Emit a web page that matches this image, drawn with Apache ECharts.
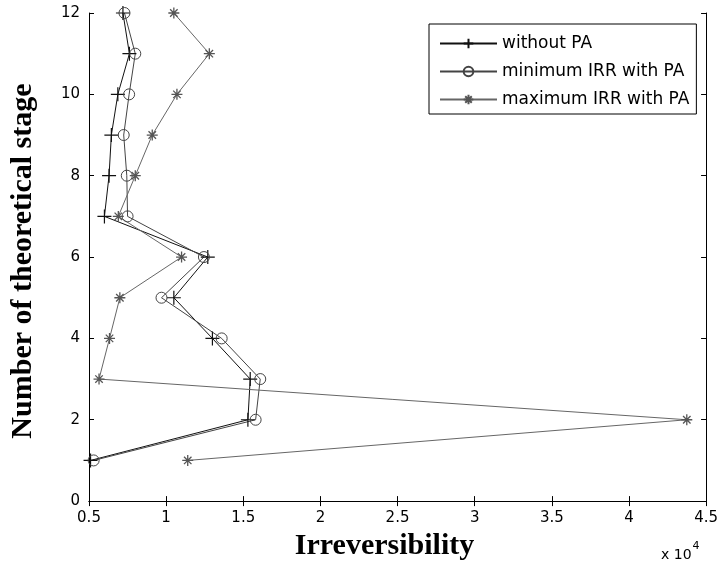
<!DOCTYPE html>
<html>
<head>
<meta charset="utf-8">
<script src="https://cdn.jsdelivr.net/npm/echarts@6/dist/echarts.min.js"></script>
<style>html,body{margin:0;padding:0;background:#fff}#c{width:721px;height:566px}</style>
</head>
<body>
<div id="c"></div>
<script>
var stages = [1,2,3,4,5,6,7,8,9,10,11,12];
var withoutPA = [5100,15300,15450,13000,10500,12700,6000,6300,6450,6870,7620,7200];
var minIRR    = [5300,15800,16100,13600,9700,12450,7500,7450,7250,7600,8000,7300];
var maxIRR    = [11400,43750,5650,6330,7000,11000,6900,8000,9100,10700,12800,10500];
var xTicks = ['0.5','1','1.5','2','2.5','3','3.5','4','4.5'];
var seriesNames = ['without PA','minimum IRR with PA','maximum IRR with PA'];

function pairs(vals){ return vals.map(function(v,i){ return [v, stages[i]]; }); }

var plusPath = 'path://M0,5L10,5M5,0L5,10';
var starPath = 'path://M5,0L5,10M0,5L10,5M1.6,1.6L8.4,8.4M8.4,1.6L1.6,8.4';
var font = 'DejaVu Sans';

var chart = echarts.init(document.getElementById('c'), null, {renderer:'canvas'});
var xCommon = {
  type:'value', min:5000, max:45000, interval:5000,
  axisLine:{show:true, lineStyle:{color:'#000', width:1}},
  axisTick:{show:true, inside:true, length:5, lineStyle:{color:'#000'}},
  splitLine:{show:false}
};
var yCommon = {
  type:'value', min:0, max:12, interval:2,
  axisLine:{show:true, lineStyle:{color:'#000', width:1}},
  axisTick:{show:true, inside:true, length:5, lineStyle:{color:'#000'}},
  splitLine:{show:false}
};
chart.setOption({
  animation:false,
  backgroundColor:'#fff',
  grid:{left:86, right:14, top:13, bottom:63, containLabel:false},
  xAxis:[
    Object.assign({}, xCommon, {
      position:'bottom',
      axisLabel:{show:true, color:'#000', fontFamily:font, fontSize:15, margin:10,
        formatter:function(v){ return xTicks[Math.round((v-5000)/5000)]; }},
      name:'Irreversibility', nameLocation:'middle', nameGap:29,
      nameTextStyle:{color:'#000', fontFamily:'Liberation Serif', fontWeight:'bold', fontSize:30, padding:[0,26,0,0]}
    }),
    Object.assign({}, xCommon, {position:'top', axisLabel:{show:false}})
  ],
  yAxis:[
    Object.assign({}, yCommon, {
      position:'left',
      axisLabel:{show:true, color:'#000', fontFamily:font, fontSize:15, margin:9},
      name:'Number of theoretical stage', nameLocation:'middle', nameGap:51,
      nameTextStyle:{color:'#000', fontFamily:'Liberation Serif', fontWeight:'bold', fontSize:30, padding:[0,8,0,0]}
    }),
    Object.assign({}, yCommon, {position:'right', axisLabel:{show:false}})
  ],
  legend:{
    orient:'vertical', left:429, top:24,
    padding:[11,7,6,10], itemGap:11, itemWidth:57, itemHeight:12,
    backgroundColor:'#fff', borderColor:'#000', borderWidth:1, borderRadius:0,
    textStyle:{color:'#000', fontFamily:font, fontSize:17},
    data:seriesNames
  },
  graphic:[{
    type:'text', left:661, top:541,
    style:{
      text:'{a|x 10}{b|4}',
      rich:{
        a:{fontFamily:font, fontSize:14, fill:'#000', padding:[7,0,0,0]},
        b:{fontFamily:font, fontSize:11, fill:'#000', verticalAlign:'top', padding:[0,0,0,1]}
      }
    }
  }],
  series:[
    {name:seriesNames[0], type:'line', data:pairs(withoutPA), symbol:plusPath, symbolSize:14,
     lineStyle:{color:'#111', width:1}, itemStyle:{color:'none', borderColor:'#111', borderWidth:1.2}},
    {name:seriesNames[1], type:'line', data:pairs(minIRR), symbol:'circle', symbolSize:11,
     lineStyle:{color:'#444', width:1}, itemStyle:{color:'none', borderColor:'#444', borderWidth:1}},
    {name:seriesNames[2], type:'line', data:pairs(maxIRR), symbol:starPath, symbolSize:11,
     lineStyle:{color:'#666', width:1}, itemStyle:{color:'none', borderColor:'#555', borderWidth:1.3}}
  ]
});
</script>
</body>
</html>
